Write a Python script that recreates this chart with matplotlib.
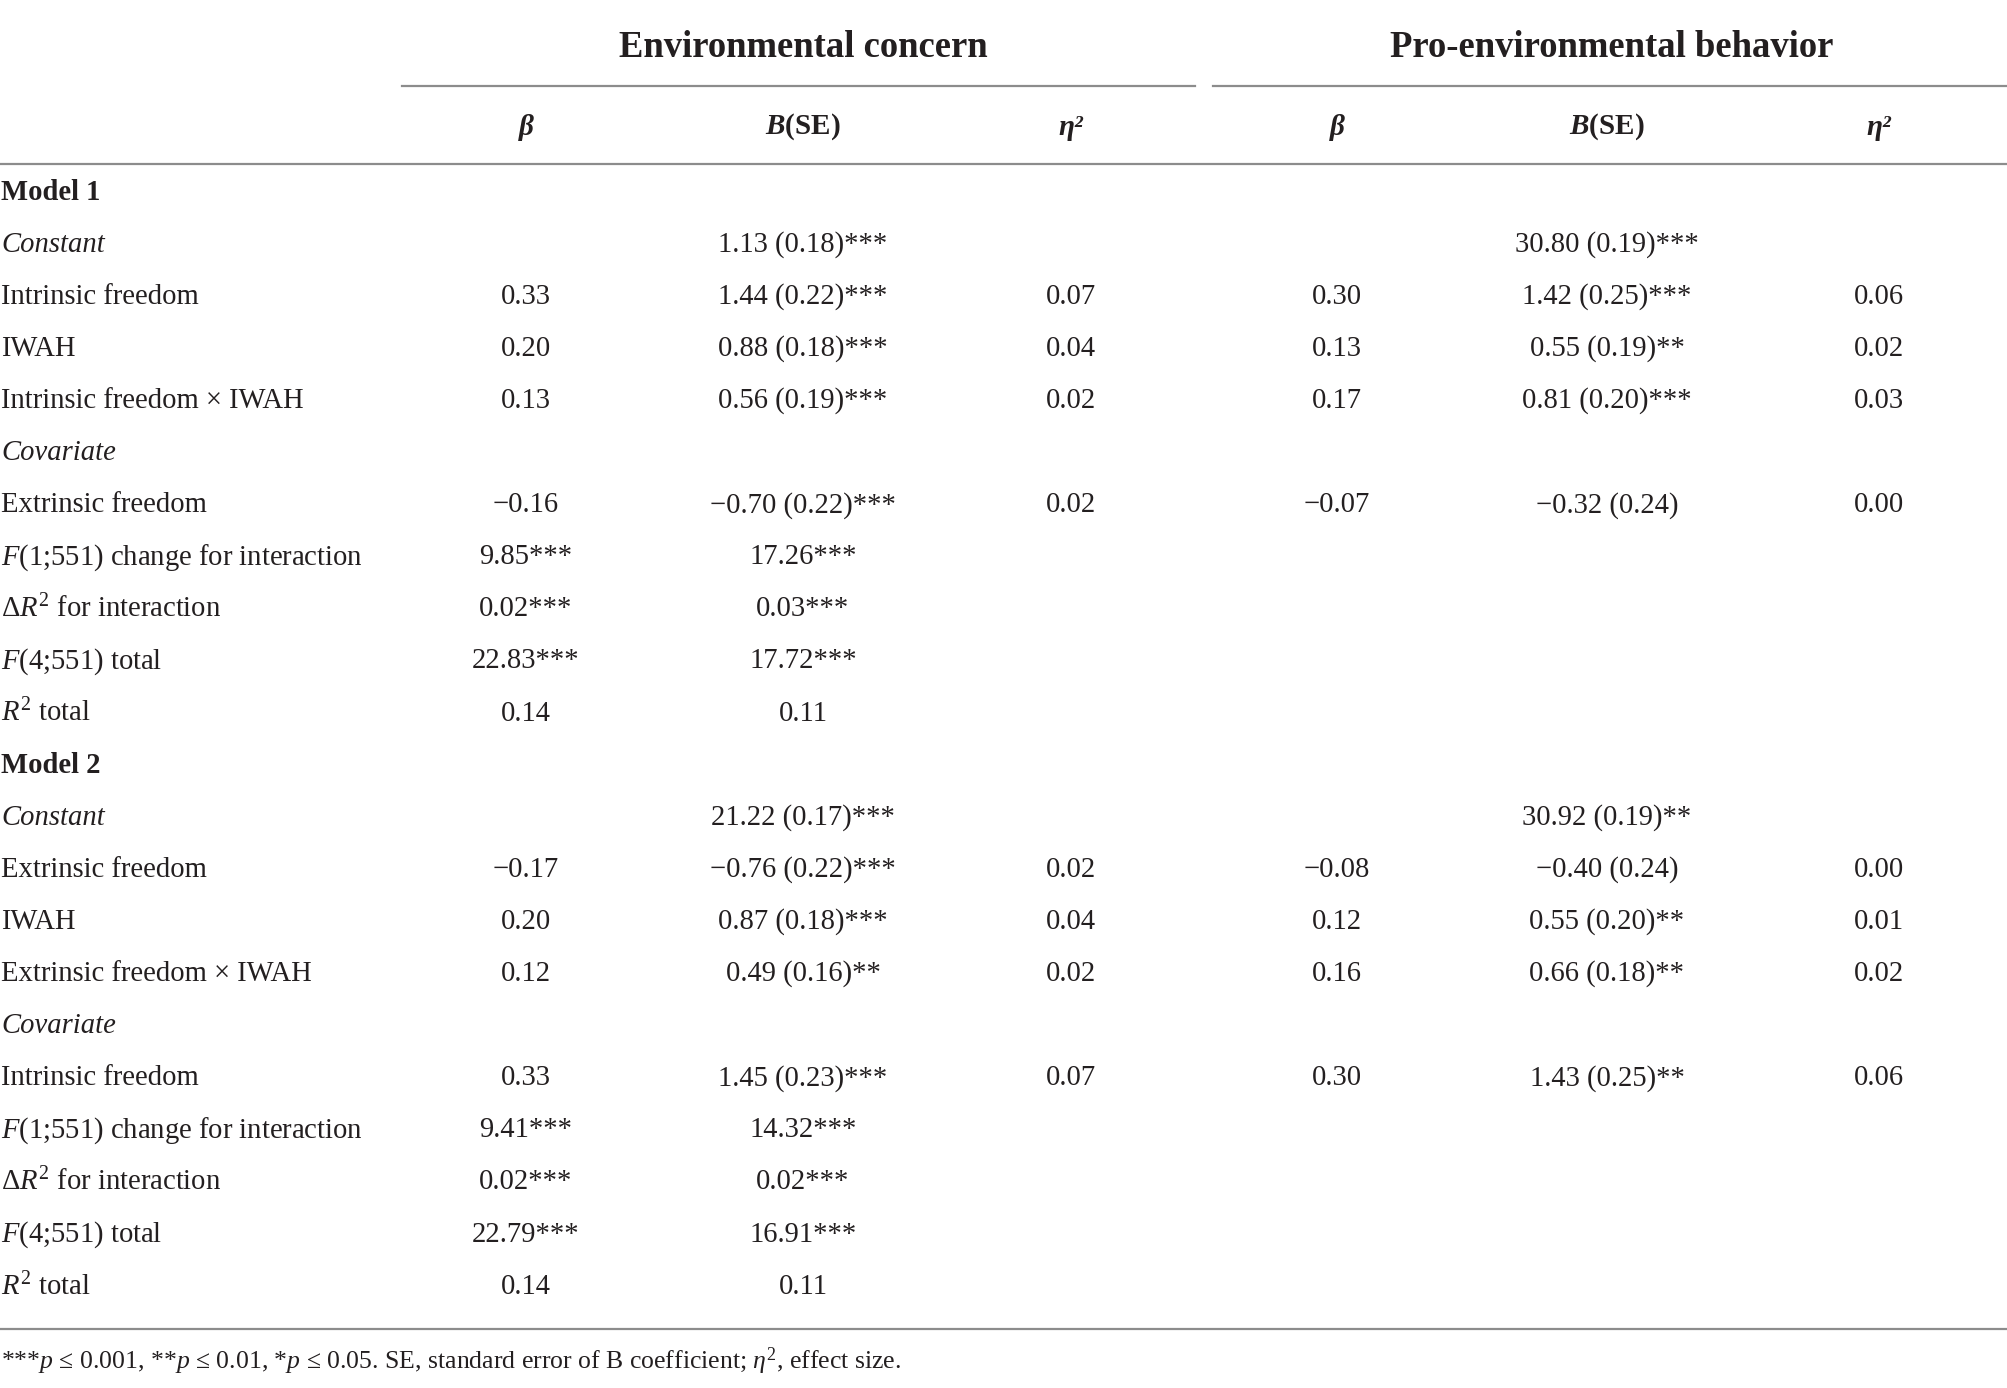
import matplotlib
matplotlib.use("Agg")
import matplotlib.pyplot as plt

plt.rcParams['font.family'] = ['Liberation Serif', 'DejaVu Serif']
plt.rcParams['mathtext.fontset'] = 'custom'
plt.rcParams['mathtext.rm'] = 'Liberation Serif'
plt.rcParams['mathtext.it'] = 'Liberation Serif:italic'
plt.rcParams['mathtext.bf'] = 'Liberation Serif:bold'
plt.rcParams['mathtext.bfit'] = 'Liberation Serif:bold:italic'

# table content
groups = ["Environmental concern", "Pro-environmental behavior"]
col_heads = ["β", r"$\mathbfit{B}$(SE)", "η²", "β", r"$\mathbfit{B}$(SE)", "η²"]

row_labels = ["Model 1", "Constant", "Intrinsic freedom", "IWAH",
              "Intrinsic freedom × IWAH", "Covariate", "Extrinsic freedom",
              r"$F$(1;551) change for interaction", r"$\Delta R^2$ for interaction",
              r"$F$(4;551) total", r"$R^2$ total",
              "Model 2", "Constant", "Extrinsic freedom", "IWAH",
              "Extrinsic freedom × IWAH", "Covariate", "Intrinsic freedom",
              r"$F$(1;551) change for interaction", r"$\Delta R^2$ for interaction",
              r"$F$(4;551) total", r"$R^2$ total"]
row_kind = ["bold", "italic", "", "", "", "italic", "", "", "", "", "",
            "bold", "italic", "", "", "", "italic", "", "", "", "", ""]

ec_beta = ["", "", "0.33", "0.20", "0.13", "", "−0.16", "9.85***", "0.02***", "22.83***", "0.14",
           "", "", "−0.17", "0.20", "0.12", "", "0.33", "9.41***", "0.02***", "22.79***", "0.14"]
ec_b = ["", "1.13 (0.18)***", "1.44 (0.22)***", "0.88 (0.18)***", "0.56 (0.19)***", "",
        "−0.70 (0.22)***", "17.26***", "0.03***", "17.72***", "0.11",
        "", "21.22 (0.17)***", "−0.76 (0.22)***", "0.87 (0.18)***", "0.49 (0.16)**", "",
        "1.45 (0.23)***", "14.32***", "0.02***", "16.91***", "0.11"]
ec_eta = ["", "", "0.07", "0.04", "0.02", "", "0.02", "", "", "", "",
          "", "", "0.02", "0.04", "0.02", "", "0.07", "", "", "", ""]
pb_beta = ["", "", "0.30", "0.13", "0.17", "", "−0.07", "", "", "", "",
           "", "", "−0.08", "0.12", "0.16", "", "0.30", "", "", "", ""]
pb_b = ["", "30.80 (0.19)***", "1.42 (0.25)***", "0.55 (0.19)**", "0.81 (0.20)***", "",
        "−0.32 (0.24)", "", "", "", "",
        "", "30.92 (0.19)**", "−0.40 (0.24)", "0.55 (0.20)**", "0.66 (0.18)**", "",
        "1.43 (0.25)**", "", "", "", ""]
pb_eta = ["", "", "0.06", "0.02", "0.03", "", "0.00", "", "", "", "",
          "", "", "0.00", "0.01", "0.02", "", "0.06", "", "", "", ""]

footnote = (r"***$p$ ≤ 0.001, **$p$ ≤ 0.01, *$p$ ≤ 0.05. SE, standard error of B coefficient; "
            r"$\eta^2$, effect size.")

W, H = 2008, 1388
ink = "#231f20"
rule = "#8c8c8c"

fig = plt.figure(figsize=(W / 100, H / 100), dpi=100)
ax = fig.add_axes([0, 0, 1, 1])
ax.set_xlim(0, W)
ax.set_ylim(H, 0)
ax.axis("off")

col_x = [526, 803, 1071, 1337, 1607, 1879]
group_x = [803, 1612]
y0, dy = 192.5, 52.1

# group headers and rules
for gx, g in zip(group_x, groups):
    ax.text(gx, 47, g, ha="center", va="center", fontsize=26.4, fontweight="bold", color=ink)
ax.plot([402, 1195], [86, 86], color=rule, lw=1.6)
ax.plot([1213, 2008], [86, 86], color=rule, lw=1.6)

for cx, h in zip(col_x, col_heads):
    ax.text(cx, 127, h, ha="center", va="center", fontsize=21, fontweight="bold",
            fontstyle="italic" if "$" not in h else "normal", color=ink)
ax.plot([0, W], [164, 164], color=rule, lw=1.6)

cols = [ec_beta, ec_b, ec_eta, pb_beta, pb_b, pb_eta]
for i, lab in enumerate(row_labels):
    y = y0 + i * dy
    kw = {}
    if row_kind[i] == "bold":
        kw["fontweight"] = "bold"
    elif row_kind[i] == "italic":
        kw["fontstyle"] = "italic"
    ax.text(1, y, lab, ha="left", va="center", fontsize=20.6, color=ink, **kw)
    for cx, col in zip(col_x, cols):
        if col[i]:
            ax.text(cx, y, col[i], ha="center", va="center", fontsize=20.6, color=ink)

ax.plot([0, W], [1329, 1329], color=rule, lw=1.6)
ax.text(1, 1361, footnote, ha="left", va="center", fontsize=18.5, color=ink)

fig.savefig("out.png", dpi=100, facecolor="white")
